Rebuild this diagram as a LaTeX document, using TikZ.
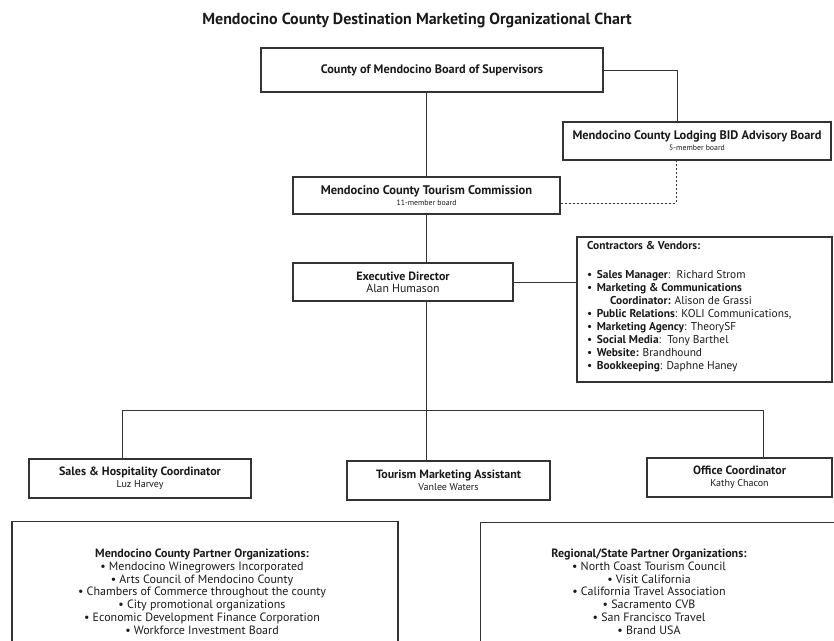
\documentclass[tikz,border=0pt]{standalone}
\usepackage{fontspec}
\setmainfont{PT Sans}
\usetikzlibrary{shadows}
\definecolor{linegray}{HTML}{333333}
\definecolor{txt}{HTML}{1A1A1A}
\tikzset{
  box/.style={draw=linegray, line width=1.2pt, fill=white, inner sep=0pt, align=center, text=txt,
    drop shadow={shadow xshift=1.3pt, shadow yshift=-1.3pt, opacity=0.22, fill=black}},
  conn/.style={draw=linegray, line width=0.9pt},
  dconn/.style={conn, dash pattern=on 2.5pt off 1.5pt},
}
\newcommand{\subline}[1]{{\mdseries\fontsize{7.8}{9}\selectfont #1}}
\begin{document}
\begin{tikzpicture}[x=1pt,y=-1pt]
\useasboundingbox (0,0) rectangle (834,640);

% title
\node[font=\bfseries\fontsize{16}{18}\selectfont, text=txt] (title) at (417,20) {Mendocino County Destination Marketing Organizational Chart};

% coordinates for connector bends
\coordinate (bj) at (677,70);
\coordinate (dj) at (676,203);
\coordinate (hl) at (122,410);
\coordinate (hr) at (763,410);

% boxes
\node[box, minimum width=342pt, minimum height=44pt] (bos) at (432,70)
  {\bfseries\fontsize{12.3}{14}\selectfont County of Mendocino Board of Supervisors};
\node[box, minimum width=268pt, minimum height=38pt] (bid) at (697,141)
  {\bfseries\fontsize{12.4}{12.5}\selectfont Mendocino County Lodging BID Advisory Board\\[-1pt]\subline{5-member board}};
\node[box, minimum width=267pt, minimum height=37pt] (tc) at (426.5,195.5)
  {\bfseries\fontsize{12.5}{12.5}\selectfont Mendocino County Tourism Commission\\[-1pt]\subline{11-member board}};
\node[box, minimum width=220pt, minimum height=38pt] (ed) at (403,282)
  {\bfseries\fontsize{12}{14.5}\selectfont Executive Director\\\mdseries\fontsize{11.8}{14.5}\selectfont Alan Humason};
\node[box, minimum width=255pt, minimum height=145pt] (cv) at (704.5,309.5) {};
\node[anchor=north west, inner sep=0pt, align=left, text=txt, font=\fontsize{11.4}{13}\selectfont] (cvt) at (587,241.3)
  {\textbf{Contractors \& Vendors:}\\[16pt]
   \textbullet\hspace{4.5pt}\textbf{Sales Manager}:\ \ Richard Strom\\
   \textbullet\hspace{4.5pt}\textbf{Marketing \& Communications}\\
   \hspace{23pt}\textbf{Coordinator:} Alison de Grassi\\
   \textbullet\hspace{4.5pt}\textbf{Public Relations}: KOLI Communications,\\
   \textbullet\hspace{4.5pt}\textbf{Marketing Agency}: TheorySF\\
   \textbullet\hspace{4.5pt}\textbf{Social Media}:\ \ Tony Barthel\\
   \textbullet\hspace{4.5pt}\textbf{Website:} Brandhound\\
   \textbullet\hspace{4.5pt}\textbf{Bookkeeping}: Daphne Haney};

\node[box, minimum width=222pt, minimum height=39pt] (sh) at (140,478.5)
  {\bfseries\fontsize{12}{14.5}\selectfont Sales \& Hospitality Coordinator\\\mdseries Luz Harvey};
\node[box, minimum width=203pt, minimum height=39pt] (tma) at (448.5,480.5)
  {\bfseries\fontsize{12}{14.5}\selectfont Tourism Marketing Assistant\\\mdseries Vanlee Waters};
\node[box, minimum width=185pt, minimum height=39pt] (oc) at (739.5,477.5)
  {\bfseries\fontsize{12}{14.5}\selectfont Office Coordinator\\\mdseries Kathy Chacon};

% bottom partner boxes (run off the page bottom)
\node[box, minimum width=386pt, minimum height=140pt, anchor=north] (mcp) at (205,521) {};
\node[box, minimum width=360pt, minimum height=140pt, anchor=north west] (rsp) at (480,522) {};
\node[anchor=north, inner sep=0pt, align=center, text=txt, font=\fontsize{12}{12.8}\selectfont] (mcpt) at (202,548.8)
  {\textbf{Mendocino County Partner Organizations:}\\
   \textbullet\ Mendocino Winegrowers Incorporated\\
   \textbullet\ Arts Council of Mendocino County\\
   \textbullet\ Chambers of Commerce throughout the county\\
   \textbullet\ City promotional organizations\\
   \textbullet\ Economic Development Finance Corporation\\
   \textbullet\ Workforce Investment Board};
\node[anchor=north, inner sep=0pt, align=center, text=txt, font=\fontsize{12}{12.8}\selectfont] (rspt) at (649,548.8)
  {\textbf{Regional/State Partner Organizations:}\\
   \textbullet\ North Coast Tourism Council\\
   \textbullet\ Visit California\\
   \textbullet\ California Travel Association\\
   \textbullet\ Sacramento CVB\\
   \textbullet\ San Francisco Travel\\
   \textbullet\ Brand USA};

% connectors
\draw[conn] (tc.north) -- (tc.north |- bos.south);
\draw[conn] (tc.south) -- (tc.south |- ed.north);
\draw[conn] (tc.south |- ed.south) -- (tc.south |- tma.north);
\draw[conn] (sh.north -| hl) -- (hl) -- (hr) -- (hr |- oc.north);
\draw[conn] (bos.east |- bj) -- (bj) -- (bj |- bid.north);
\draw[dconn] (dj -| tc.east) -- (dj) -- (dj |- bid.south);
\draw[conn] (ed.east) -- (cv.west |- ed.east);
\end{tikzpicture}
\end{document}
